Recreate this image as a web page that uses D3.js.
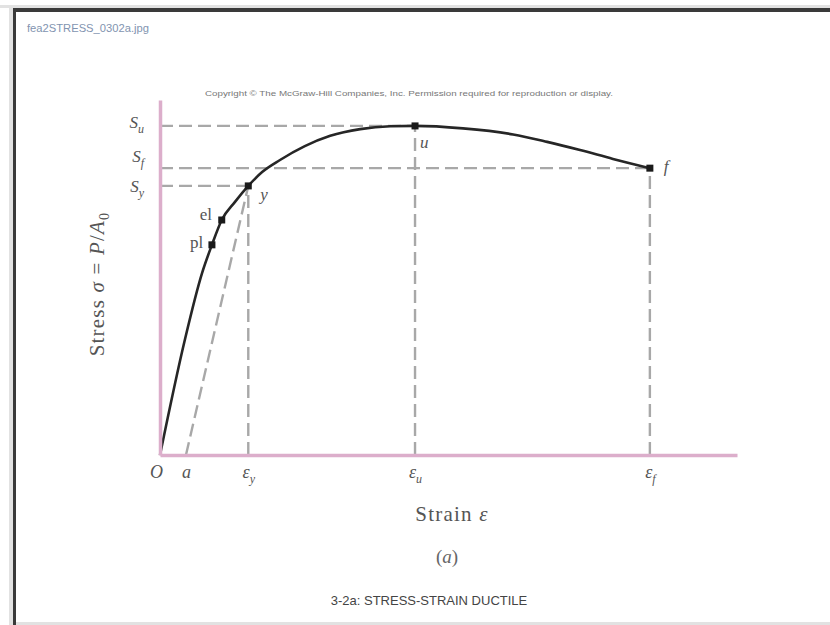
<!DOCTYPE html>
<html>
<head>
<meta charset="utf-8">
<script src="https://cdn.jsdelivr.net/npm/d3@7"></script>
<style>
html,body{margin:0;padding:0;background:#fff;}
svg{display:block;}
</style>
</head>
<body>
<svg id="chart" width="830" height="625"></svg>
<script>
// ---- data (strain / stress in relative units, 0..100) ----
const curveStrain = [0, 4.3, 7.3, 9.0, 10.7, 13.0, 15.3, 17.7, 20.8, 25.1, 29.5, 34.7, 39.9, 44.2, 52.5, 61.2, 67.1, 72.8, 78.5, 84.9];
const curveStress = [0, 32.4, 51.3, 59.2, 66.2, 71.3, 75.8, 79.7, 83.1, 87.0, 89.9, 91.8, 92.6, 92.7, 92.0, 90.3, 88.2, 85.9, 83.4, 80.8];
const pointNames  = ["pl", "el", "y", "u", "f"];
const pointStrain = [9.0, 10.7, 15.3, 44.2, 84.9];
const pointStress = [59.2, 66.2, 75.8, 92.7, 80.8];
const xTickKeys   = ["O", "a", "εy", "εu", "εf"];
const xTickVals   = [0, 4.5, 15.3, 44.2, 84.9];
const yTickKeys   = ["Su", "Sf", "Sy"];
const yTickVals   = [92.7, 80.8, 75.8];
const offsetStart = 4.5;   // strain at point a
const titleText   = "3-2a: STRESS-STRAIN DUCTILE";
const fileText    = "fea2STRESS_0302a.jpg";
const copyText    = "Copyright © The McGraw-Hill Companies, Inc. Permission required for reproduction or display.";

const svg = d3.select("#chart");

// ---- window chrome ----
svg.append("rect").attr("x",0).attr("y",5).attr("width",830).attr("height",3).attr("fill","#e2e2e2");
svg.append("rect").attr("x",9).attr("y",8).attr("width",4).attr("height",617).attr("fill","#e2e2e2");
svg.append("rect").attr("x",13).attr("y",8).attr("width",817).attr("height",4).attr("fill","#3a3a3a");
svg.append("rect").attr("x",13).attr("y",8).attr("width",3).attr("height",617).attr("fill","#3a3a3a");
svg.append("rect").attr("x",16).attr("y",622).attr("width",814).attr("height",3).attr("fill","#e2e2e2");

svg.append("text").attr("x",27).attr("y",32).attr("font-family","Liberation Sans, Arial").attr("font-size",11)
  .attr("fill","#8294b0").attr("textLength",122).attr("lengthAdjust","spacingAndGlyphs").text(fileText);

svg.append("text").attr("x",205).attr("y",96).attr("font-family","Liberation Sans, Arial").attr("font-size",8)
  .attr("fill","#777").attr("textLength",408).attr("lengthAdjust","spacingAndGlyphs").text(copyText);

// ---- scales ----
const x = d3.scaleLinear().domain([0,100]).range([160,737]);
const y = d3.scaleLinear().domain([0,100]).range([455,100]);

const dashColor = "#a8a8a8";
const g = svg.append("g");

// dashed guide lines
const dash = "13,6";
function dline(x1,y1,x2,y2){
  g.append("line").attr("x1",x(x1)).attr("y1",y(y1)).attr("x2",x(x2)).attr("y2",y(y2))
   .attr("stroke",dashColor).attr("stroke-width",2.4).attr("stroke-dasharray",dash);
}
dline(0, yTickVals[0], xTickVals[3], yTickVals[0]);  // Su
dline(0, yTickVals[1], xTickVals[4], yTickVals[1]);  // Sf
dline(0, yTickVals[2], xTickVals[2], yTickVals[2]);  // Sy
dline(xTickVals[2], 0, xTickVals[2], yTickVals[2]);  // ey
dline(xTickVals[3], 0, xTickVals[3], yTickVals[0]);  // eu
dline(xTickVals[4], 0, xTickVals[4], yTickVals[1]);  // ef
dline(offsetStart, 0, pointStrain[2], pointStress[2]); // offset line

// axes
const pink = "#dcaecb";
const xAxis = d3.axisBottom(x).tickValues(xTickVals).tickSize(0).tickSizeOuter(0).tickPadding(10).tickFormat(()=> "");
const yAxis = d3.axisLeft(y).tickValues(yTickVals).tickSize(0).tickSizeOuter(0).tickPadding(16).tickFormat(()=> "");
const gx = svg.append("g").attr("transform",`translate(0,${y(0)})`).call(xAxis);
const gy = svg.append("g").attr("transform",`translate(${x(0)},0)`).call(yAxis);
[gx,gy].forEach(a=>{
  a.select(".domain").attr("stroke",pink).attr("stroke-width",3.5);
  a.selectAll("text").attr("font-family","Liberation Serif, Times New Roman, serif").attr("font-size",18).attr("fill","#555").attr("font-style","italic");
});
function subLabel(sel, key){
  sel.text(null);
  sel.append("tspan").text(key[0]);
  if(key.length>1) sel.append("tspan").attr("font-size",12).attr("dy",5).text(key.slice(1));
}
gx.selectAll(".tick text").each(function(d,i){
  const t = d3.select(this);
  subLabel(t, xTickKeys[i]);
  if(i===0) t.attr("dx",-4);
});
const yLabShift = [-4, -13, 0];
gy.selectAll(".tick text").each(function(d,i){
  const t = d3.select(this);
  subLabel(t, yTickKeys[i]);
  t.attr("dy", yLabShift[i] + 6).attr("font-size",17);
});

// curve
const pts = curveStrain.map((s,i)=>[s, curveStress[i]]);
const line = d3.line().x(d=>x(d[0])).y(d=>y(d[1])).curve(d3.curveMonotoneX);
g.append("path").attr("d",line(pts)).attr("fill","none").attr("stroke","#262626").attr("stroke-width",2.6);

// markers
g.selectAll("rect.mk").data(pointStrain).enter().append("rect").attr("class","mk")
  .attr("x",d=>x(d)-3.5).attr("y",(d,i)=>y(pointStress[i])-3.5).attr("width",7).attr("height",7).attr("fill","#1a1a1a");

// point labels
const labOff = {pl:[-22,3], el:[-22,0], y:[12,14], u:[5,22], f:[14,4]};
g.selectAll("text.pt").data(pointNames).enter().append("text").attr("class","pt")
  .attr("x",(d,i)=>x(pointStrain[i])+labOff[d][0]).attr("y",(d,i)=>y(pointStress[i])+labOff[d][1])
  .attr("font-family","Liberation Serif, Times New Roman, serif").attr("font-size",17)
  .attr("font-style",d=> (d==="y"||d==="f"||d==="u")?"italic":"normal")
  .attr("fill","#555").text(d=>d);

// axis titles
svg.append("text").attr("x",452).attr("y",521).attr("text-anchor","middle")
  .attr("font-family","Liberation Serif, Times New Roman, serif").attr("font-size",21).attr("fill","#555")
  .attr("letter-spacing",1.2)
  .html('Strain <tspan font-style="italic">ε</tspan>');
svg.append("text").attr("transform","translate(104,284) rotate(-90)").attr("text-anchor","middle")
  .attr("font-family","Liberation Serif, Times New Roman, serif").attr("font-size",21).attr("fill","#555")
  .attr("letter-spacing",1.2)
  .html('Stress <tspan font-style="italic">σ</tspan> = <tspan font-style="italic">P</tspan>/<tspan font-style="italic">A</tspan><tspan font-size="14" dy="5">0</tspan>');
svg.append("text").attr("x",447).attr("y",563).attr("text-anchor","middle")
  .attr("font-family","Liberation Serif, Times New Roman, serif").attr("font-size",19).attr("fill","#666")
  .html('(<tspan font-style="italic">a</tspan>)');
svg.append("text").attr("x",429).attr("y",605).attr("text-anchor","middle")
  .attr("font-family","Liberation Sans, Arial").attr("font-size",13).attr("fill","#444")
  .text(titleText);
</script>
</body>
</html>
